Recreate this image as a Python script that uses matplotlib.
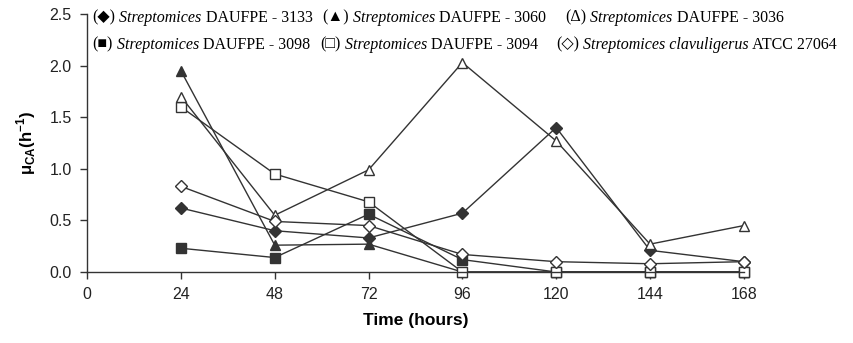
import matplotlib
matplotlib.use('Agg')
import matplotlib.pyplot as plt

plt.rcParams['font.family'] = ['Liberation Sans', 'DejaVu Sans']
plt.rcParams['mathtext.fontset'] = 'custom'
plt.rcParams['mathtext.rm'] = 'Liberation Sans:bold'
plt.rcParams['mathtext.bf'] = 'Liberation Sans:bold'

hours = [24, 48, 72, 96, 120, 144, 168]

s3133 = [0.62, 0.40, 0.33, 0.57, 1.40, 0.21, 0.10]
s3060 = [1.95, 0.26, 0.27, 0.00, 0.00, 0.00, 0.00]
s3036 = [1.70, 0.55, 0.99, 2.03, 1.27, 0.27, 0.45]
s3098 = [0.23, 0.14, 0.56, 0.12, 0.00, 0.00, 0.00]
s3094 = [1.60, 0.95, 0.68, 0.00, 0.00, 0.00, 0.00]
sclav = [0.83, 0.49, 0.45, 0.17, 0.10, 0.08, 0.10]

dark = '#333333'

fig = plt.figure(figsize=(8.54, 3.43), dpi=100)
ax = fig.add_axes([0.102, 0.207, 0.769, 0.752])

# (values, marker, filled)
series = [
    (s3098, 's', True),
    (s3060, '^', True),
    (s3133, 'D', True),
    (s3094, 's', False),
    (s3036, '^', False),
    (sclav, 'D', False),
]
for vals, mk, filled in series:
    ms = 6.5 if mk == 'D' else 7.5
    ax.plot(hours, vals, color=dark, lw=1.0, marker=mk, markersize=ms,
            markerfacecolor=dark if filled else 'white',
            markeredgecolor=dark, markeredgewidth=1.0, clip_on=False)

ax.set_xlim(0, 168)
ax.set_ylim(0, 2.5)
ax.set_xticks([0, 24, 48, 72, 96, 120, 144, 168])
ax.set_yticks([0.0, 0.5, 1.0, 1.5, 2.0, 2.5])
ax.set_yticklabels(['0.0', '0.5', '1.0', '1.5', '2.0', '2.5'])
for sp in ['top', 'right']:
    ax.spines[sp].set_visible(False)
for sp in ['left', 'bottom']:
    ax.spines[sp].set_color(dark)
    ax.spines[sp].set_linewidth(1.0)
ax.tick_params(direction='out', length=5, width=1.0, color=dark,
               labelsize=11.5, labelcolor='#222222', pad=6)

ax.set_xlabel('Time (hours)', fontsize=12.5, fontweight='bold', labelpad=8)
ax.set_ylabel(r'μ$_{\mathrm{CA}}$(h$^{\mathrm{-1}}$)', fontsize=12,
              fontweight='bold', labelpad=8)

# legend written as text pieces
rows = [
    [('(◆)', 'Streptomices', ' DAUFPE - 3133'),
     ('(▲)', 'Streptomices', ' DAUFPE - 3060'),
     ('(Δ)', 'Streptomices', ' DAUFPE - 3036')],
    [('(■)', 'Streptomices', ' DAUFPE - 3098'),
     ('(□)', 'Streptomices', ' DAUFPE - 3094'),
     ('(◇)', 'Streptomices clavuligerus', ' ATCC 27064')],
]
col_x = [[0.008, 0.358, 0.728], [0.008, 0.355, 0.714]]
row_y = [0.97, 0.865]
serif = ['Liberation Serif', 'DejaVu Sans']
for r, row in enumerate(rows):
    for c, (sym, it, rest) in enumerate(row):
        t1 = ax.text(col_x[r][c], row_y[r], sym, transform=ax.transAxes,
                     family=serif, fontsize=11.5, va='baseline', ha='left')
        t2 = ax.annotate(' ' + it, xy=(1, 0), xycoords=t1, family=serif,
                         style='italic', fontsize=11.5, va='bottom', ha='left')
        ax.annotate(rest, xy=(1, 0), xycoords=t2, family=serif,
                    fontsize=11.5, va='bottom', ha='left')

fig.savefig('out.png', dpi=100)
